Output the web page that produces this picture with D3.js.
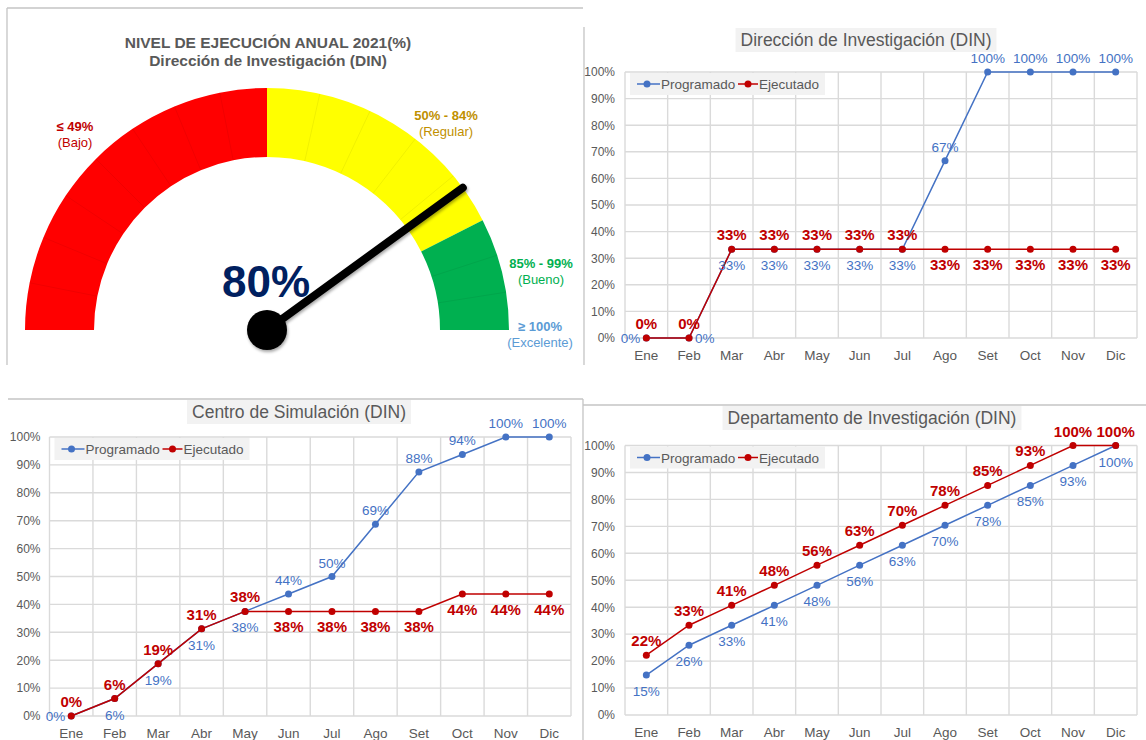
<!DOCTYPE html>
<html>
<head>
<meta charset="utf-8">
<script src="https://cdn.jsdelivr.net/npm/d3@7"></script>
<style>
  body { margin: 0; background: #fff; }
  text { font-family: "Liberation Sans", Arial, sans-serif; }
</style>
</head>
<body>
<div id="chart"></div>
<script>
// Months and y ticks shared by the three line charts
const months = ["Ene", "Feb", "Mar", "Abr", "May", "Jun", "Jul", "Ago", "Set", "Oct", "Nov", "Dic"];
const yTicks = [0, 0.1, 0.2, 0.3, 0.4, 0.5, 0.6, 0.7, 0.8, 0.9, 1];
const seriesNames = ["Programado", "Ejecutado"];

// Gauge
const gaugeValue = 0.8;
const gaugeLimits = [0, 0.5, 0.85, 1];
const gaugeRanges = ["≤ 49%", "50% - 84%", "85% - 99%", "≥ 100%"];
const gaugeRatings = ["(Bajo)", "(Regular)", "(Bueno)", "(Excelente)"];

// Dirección de Investigación (DIN)
const dinProgramado = [0, 0, 0.3333, 0.3333, 0.3333, 0.3333, 0.3333, 0.6667, 1, 1, 1, 1];
const dinEjecutado = [0, 0, 0.3333, 0.3333, 0.3333, 0.3333, 0.3333, 0.3333, 0.3333, 0.3333, 0.3333, 0.3333];

// Centro de Simulación (DIN)
const simProgramado = [0, 0.0625, 0.1875, 0.3125, 0.375, 0.4375, 0.5, 0.6875, 0.875, 0.9375, 1, 1];
const simEjecutado = [0, 0.0625, 0.1875, 0.3125, 0.375, 0.375, 0.375, 0.375, 0.375, 0.4375, 0.4375, 0.4375];

// Departamento de Investigación (DIN)
const depProgramado = [0.148, 0.259, 0.333, 0.407, 0.481, 0.556, 0.63, 0.704, 0.778, 0.852, 0.926, 1];
const depEjecutado = [0.222, 0.333, 0.407, 0.481, 0.556, 0.63, 0.704, 0.778, 0.852, 0.926, 1, 1];

const blue = "#4472c4";
const red = "#c00000";
const gray = "#595959";
const pct = d3.format(".0%");

const svg = d3.select("#chart").append("svg")
  .attr("width", 1146)
  .attr("height", 740);

const defs = svg.append("defs");
const shadow = defs.append("filter").attr("id", "shadow")
  .attr("x", "-50%").attr("y", "-50%").attr("width", "200%").attr("height", "200%");
shadow.append("feDropShadow")
  .attr("dx", 1).attr("dy", 2).attr("stdDeviation", 1.5)
  .attr("flood-color", "#000").attr("flood-opacity", 0.35);

// Panel borders
const borders = [
  [7, 8, 583, 8], [7, 8, 7, 365],
  [584, 27, 584, 365],
  [8, 399, 583, 399], [583, 399, 583, 740],
  [583, 405, 1146, 405]
];
svg.selectAll(".border").data(borders).join("line")
  .attr("x1", d => d[0]).attr("y1", d => d[1])
  .attr("x2", d => d[2]).attr("y2", d => d[3])
  .attr("stroke", "#c4c4c4").attr("stroke-width", 1.3);

gauge();

lineChart({
  title: "Dirección de Investigación (DIN)", titleX: 866, titleY: 40,
  left: 625, right: 1137, top: 72, bottom: 338, yPad: 10,
  prog: dinProgramado, ejec: dinEjecutado,
  progPos: ["l", "r", "b", "b", "b", "b", "b", "t", "t", "t", "t", "t"],
  ejecPos: ["t", "t", "t", "t", "t", "t", "t", "b", "b", "b", "b", "b"]
});

lineChart({
  title: "Centro de Simulación (DIN)", titleX: 299, titleY: 412,
  left: 49.5, right: 571, top: 437, bottom: 716, yPad: 9,
  prog: simProgramado, ejec: simEjecutado,
  progPos: ["l", "b", "b", "b", "b", "t", "t", "t", "t", "t", "t", "t"],
  ejecPos: ["t", "t", "t", "t", "t", "b", "b", "b", "b", "b", "b", "b"]
});

lineChart({
  title: "Departamento de Investigación (DIN)", titleX: 872, titleY: 418,
  left: 625, right: 1137, top: 445.5, bottom: 715, yPad: 10,
  prog: depProgramado, ejec: depEjecutado,
  progPos: ["b", "b", "b", "b", "b", "b", "b", "b", "b", "b", "b", "b"],
  ejecPos: ["t", "t", "t", "t", "t", "t", "t", "t", "t", "t", "t", "t"]
});

function gauge() {
  const cx = 267, cy = 330, rIn = 173, rOut = 242;
  const bandColors = ["#ff0000", "#ffff00", "#00b050"];
  const slices = [8, 5, 3];

  svg.append("text")
    .attr("x", 268).attr("y", 48)
    .attr("text-anchor", "middle")
    .style("font-size", "15.5px").style("font-weight", "bold")
    .style("fill", gray)
    .text("NIVEL DE EJECUCIÓN ANUAL 2021(%)");
  svg.append("text")
    .attr("x", 268).attr("y", 66)
    .attr("text-anchor", "middle")
    .style("font-size", "15.5px").style("font-weight", "bold")
    .style("fill", gray)
    .text("Dirección de Investigación (DIN)");

  const g = svg.append("g").attr("transform", "translate(" + cx + "," + cy + ")");
  const angle = d3.scaleLinear().domain([0, 1]).range([-Math.PI / 2, Math.PI / 2]);
  const arc = d3.arc().innerRadius(rIn).outerRadius(rOut);

  for (let i = 0; i < 3; i++) {
    g.append("path")
      .attr("d", arc({ startAngle: angle(gaugeLimits[i]), endAngle: angle(gaugeLimits[i + 1]) }))
      .attr("fill", bandColors[i]);
    // faint slice lines inside each band
    for (let k = 1; k < slices[i]; k++) {
      const a = angle(gaugeLimits[i] + (gaugeLimits[i + 1] - gaugeLimits[i]) * k / slices[i]);
      g.append("line")
        .attr("x1", rIn * Math.sin(a)).attr("y1", -rIn * Math.cos(a))
        .attr("x2", rOut * Math.sin(a)).attr("y2", -rOut * Math.cos(a))
        .attr("stroke", "rgba(0,0,0,0.06)").attr("stroke-width", 1);
    }
  }

  // band labels
  const labelPos = [[75, 131], [446, 120], [541, 268], [540, 331]];
  const labelColors = [red, "#bf9000", "#00b050", "#5b9bd5"];
  gaugeRanges.forEach(function (t, i) {
    svg.append("text")
      .attr("x", labelPos[i][0]).attr("y", labelPos[i][1])
      .attr("text-anchor", "middle")
      .style("font-size", "13px").style("font-weight", "bold")
      .style("fill", labelColors[i])
      .text(t);
    svg.append("text")
      .attr("x", labelPos[i][0]).attr("y", labelPos[i][1] + 16)
      .attr("text-anchor", "middle")
      .style("font-size", "13px")
      .style("fill", labelColors[i])
      .text(gaugeRatings[i]);
  });

  // big value
  svg.append("text")
    .attr("x", 266).attr("y", 297)
    .attr("text-anchor", "middle")
    .style("font-size", "44px").style("font-weight", "bold")
    .style("fill", "#002060")
    .text(pct(gaugeValue));

  // needle
  const a = angle(gaugeValue);
  g.append("line")
    .attr("x1", 0).attr("y1", 0)
    .attr("x2", rOut * Math.sin(a)).attr("y2", -rOut * Math.cos(a))
    .attr("stroke", "#000").attr("stroke-width", 8)
    .attr("stroke-linecap", "round")
    .attr("filter", "url(#shadow)");
  g.append("circle")
    .attr("r", 20)
    .attr("fill", "#000")
    .attr("filter", "url(#shadow)");
}

function lineChart(o) {
  const x = d3.scaleBand().domain(months).range([o.left, o.right]);
  const y = d3.scaleLinear().domain([0, 1]).range([o.bottom, o.top]);
  const cxOf = (d, i) => x(months[i]) + x.bandwidth() / 2;
  const g = svg.append("g");

  // gridlines
  g.selectAll(".hgrid").data(yTicks).join("line")
    .attr("x1", o.left).attr("x2", o.right)
    .attr("y1", d => y(d)).attr("y2", d => y(d))
    .attr("stroke", "#dadada").attr("stroke-width", 1.4);
  g.selectAll(".vgrid").data(months.map(m => x(m)).concat([o.right])).join("line")
    .attr("x1", d => d).attr("x2", d => d)
    .attr("y1", o.top).attr("y2", o.bottom)
    .attr("stroke", "#dadada").attr("stroke-width", 1.4);

  // axes
  const ya = g.append("g")
    .attr("transform", "translate(" + o.left + ",0)")
    .call(d3.axisLeft(y).tickValues(yTicks).tickFormat(pct).tickSize(0).tickPadding(o.yPad));
  ya.select(".domain").remove();
  ya.selectAll("text").style("font-size", "12px").style("fill", gray)
    .style("font-family", '"Liberation Sans", Arial, sans-serif');

  const xa = g.append("g")
    .attr("transform", "translate(0," + o.bottom + ")")
    .call(d3.axisBottom(x).tickSize(0).tickPadding(12));
  xa.select(".domain").remove();
  xa.selectAll("text").style("font-size", "13.5px").style("fill", gray)
    .style("font-family", '"Liberation Sans", Arial, sans-serif');

  // title with grey box
  const tg = g.append("g");
  const tbox = tg.append("rect").attr("fill", "#f2f2f2");
  const title = tg.append("text")
    .attr("x", o.titleX).attr("y", o.titleY + 6)
    .attr("text-anchor", "middle")
    .style("font-size", "17.5px").style("fill", gray)
    .text(o.title);
  const tb = title.node().getBBox();
  tbox.attr("x", tb.x - 5).attr("y", o.titleY - 12)
    .attr("width", tb.width + 10).attr("height", 24);

  // series
  const line = d3.line().x(cxOf).y(d => y(d));
  const series = [
    { data: o.prog, color: blue, pos: o.progPos, bold: false },
    { data: o.ejec, color: red, pos: o.ejecPos, bold: true }
  ];
  series.forEach(function (s) {
    g.append("path")
      .datum(s.data)
      .attr("d", line)
      .attr("fill", "none")
      .attr("stroke", s.color)
      .attr("stroke-width", 1.5);
    g.append("g").selectAll("circle").data(s.data).join("circle")
      .attr("cx", cxOf)
      .attr("cy", d => y(d))
      .attr("r", 3.5)
      .attr("fill", s.color);
  });
  series.forEach(function (s) {
    g.append("g").selectAll("text").data(s.data).join("text")
      .attr("x", function (d, i) {
        const p = s.pos[i];
        return cxOf(d, i) + (p === "l" ? -6 : p === "r" ? 6 : 0);
      })
      .attr("y", function (d, i) {
        const p = s.pos[i];
        return y(d) + (p === "t" ? -9 : p === "b" ? 21 : 5);
      })
      .attr("text-anchor", function (d, i) {
        const p = s.pos[i];
        return p === "l" ? "end" : p === "r" ? "start" : "middle";
      })
      .style("font-size", s.bold ? "15px" : "13.5px")
      .style("font-weight", s.bold ? "bold" : "normal")
      .style("fill", s.color)
      .text(d => pct(d));
  });

  // legend
  const lx = o.left + 5, ly = o.top + 1;
  const lg = g.append("g").attr("transform", "translate(" + lx + "," + ly + ")");
  lg.append("rect").attr("width", 195).attr("height", 22).attr("fill", "#f2f2f2");
  const offsets = [[7, 30, 17, 31], [108, 128, 118, 129]];
  seriesNames.forEach(function (name, i) {
    const c = i === 0 ? blue : red;
    const off = offsets[i];
    lg.append("line")
      .attr("x1", off[0]).attr("x2", off[1]).attr("y1", 11).attr("y2", 11)
      .attr("stroke", c).attr("stroke-width", 1.5);
    lg.append("circle").attr("cx", off[2]).attr("cy", 11).attr("r", 3.5).attr("fill", c);
    lg.append("text")
      .attr("x", off[3]).attr("y", 16)
      .style("font-size", "13.5px").style("fill", gray)
      .text(name);
  });
}
</script>
</body>
</html>
